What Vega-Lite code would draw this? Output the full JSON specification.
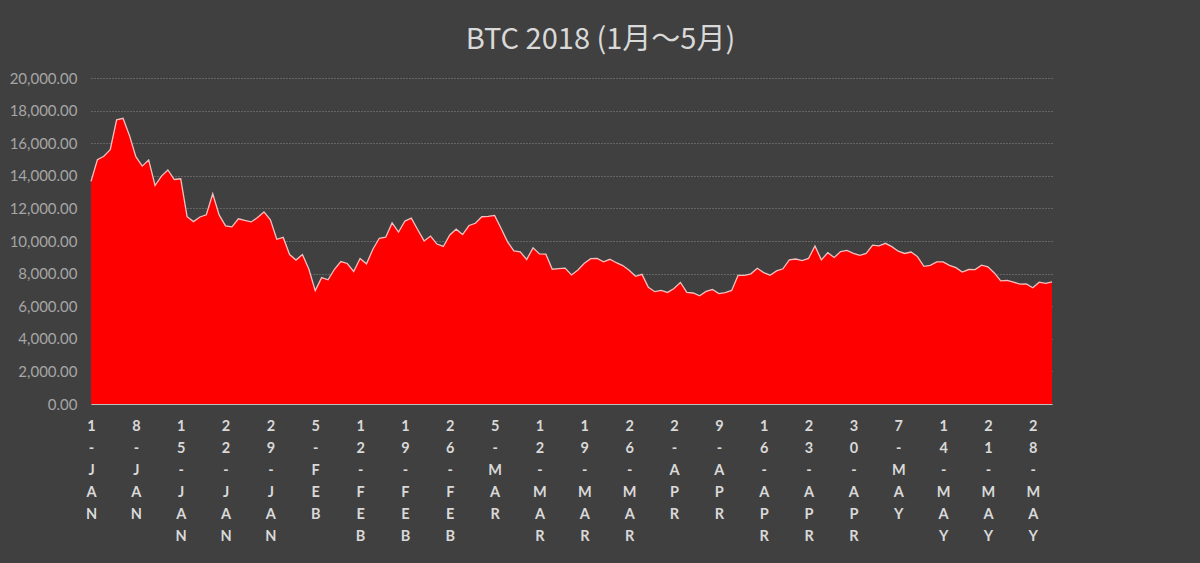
{
  "$schema": "https://vega.github.io/schema/vega-lite/v6.json",
  "description": "BTC 2018 daily price, January to May",
  "autosize": "none",
  "width": 961,
  "height": 326,
  "padding": {"left": 91, "top": 78, "right": 148, "bottom": 159},
  "background": "#404040",
  "config": {
    "view": {"stroke": null},
    "font": "Lato"
  },
  "title": {
    "text": "BTC 2018 (1月～5月)",
    "font": "Noto Sans CJK JP",
    "fontSize": 29,
    "fontWeight": "normal",
    "color": "#d9d9d9",
    "anchor": "middle",
    "dx": 29,
    "offset": 16
  },
  "data": {
    "values": [
      {"date": "2018-01-01", "price": 13657},
      {"date": "2018-01-02", "price": 14982},
      {"date": "2018-01-03", "price": 15201},
      {"date": "2018-01-04", "price": 15599},
      {"date": "2018-01-05", "price": 17429},
      {"date": "2018-01-06", "price": 17527},
      {"date": "2018-01-07", "price": 16477},
      {"date": "2018-01-08", "price": 15170},
      {"date": "2018-01-09", "price": 14595},
      {"date": "2018-01-10", "price": 14973},
      {"date": "2018-01-11", "price": 13405},
      {"date": "2018-01-12", "price": 13980},
      {"date": "2018-01-13", "price": 14360},
      {"date": "2018-01-14", "price": 13772},
      {"date": "2018-01-15", "price": 13819},
      {"date": "2018-01-16", "price": 11490},
      {"date": "2018-01-17", "price": 11188},
      {"date": "2018-01-18", "price": 11474},
      {"date": "2018-01-19", "price": 11607},
      {"date": "2018-01-20", "price": 12899},
      {"date": "2018-01-21", "price": 11601},
      {"date": "2018-01-22", "price": 10931},
      {"date": "2018-01-23", "price": 10868},
      {"date": "2018-01-24", "price": 11359},
      {"date": "2018-01-25", "price": 11259},
      {"date": "2018-01-26", "price": 11171},
      {"date": "2018-01-27", "price": 11441},
      {"date": "2018-01-28", "price": 11786},
      {"date": "2018-01-29", "price": 11296},
      {"date": "2018-01-30", "price": 10106},
      {"date": "2018-01-31", "price": 10221},
      {"date": "2018-02-01", "price": 9171},
      {"date": "2018-02-02", "price": 8830},
      {"date": "2018-02-03", "price": 9174},
      {"date": "2018-02-04", "price": 8277},
      {"date": "2018-02-05", "price": 6955},
      {"date": "2018-02-06", "price": 7754},
      {"date": "2018-02-07", "price": 7621},
      {"date": "2018-02-08", "price": 8265},
      {"date": "2018-02-09", "price": 8736},
      {"date": "2018-02-10", "price": 8621},
      {"date": "2018-02-11", "price": 8129},
      {"date": "2018-02-12", "price": 8926},
      {"date": "2018-02-13", "price": 8598},
      {"date": "2018-02-14", "price": 9494},
      {"date": "2018-02-15", "price": 10166},
      {"date": "2018-02-16", "price": 10233},
      {"date": "2018-02-17", "price": 11112},
      {"date": "2018-02-18", "price": 10551},
      {"date": "2018-02-19", "price": 11225},
      {"date": "2018-02-20", "price": 11403},
      {"date": "2018-02-21", "price": 10690},
      {"date": "2018-02-22", "price": 10005},
      {"date": "2018-02-23", "price": 10301},
      {"date": "2018-02-24", "price": 9813},
      {"date": "2018-02-25", "price": 9664},
      {"date": "2018-02-26", "price": 10366},
      {"date": "2018-02-27", "price": 10725},
      {"date": "2018-02-28", "price": 10397},
      {"date": "2018-03-01", "price": 10951},
      {"date": "2018-03-02", "price": 11086},
      {"date": "2018-03-03", "price": 11489},
      {"date": "2018-03-04", "price": 11512},
      {"date": "2018-03-05", "price": 11573},
      {"date": "2018-03-06", "price": 10779},
      {"date": "2018-03-07", "price": 9965},
      {"date": "2018-03-08", "price": 9395},
      {"date": "2018-03-09", "price": 9337},
      {"date": "2018-03-10", "price": 8866},
      {"date": "2018-03-11", "price": 9578},
      {"date": "2018-03-12", "price": 9205},
      {"date": "2018-03-13", "price": 9194},
      {"date": "2018-03-14", "price": 8269},
      {"date": "2018-03-15", "price": 8300},
      {"date": "2018-03-16", "price": 8338},
      {"date": "2018-03-17", "price": 7916},
      {"date": "2018-03-18", "price": 8223},
      {"date": "2018-03-19", "price": 8630},
      {"date": "2018-03-20", "price": 8913},
      {"date": "2018-03-21", "price": 8929},
      {"date": "2018-03-22", "price": 8728},
      {"date": "2018-03-23", "price": 8879},
      {"date": "2018-03-24", "price": 8668},
      {"date": "2018-03-25", "price": 8495},
      {"date": "2018-03-26", "price": 8209},
      {"date": "2018-03-27", "price": 7833},
      {"date": "2018-03-28", "price": 7954},
      {"date": "2018-03-29", "price": 7165},
      {"date": "2018-03-30", "price": 6891},
      {"date": "2018-03-31", "price": 6973},
      {"date": "2018-04-01", "price": 6845},
      {"date": "2018-04-02", "price": 7083},
      {"date": "2018-04-03", "price": 7456},
      {"date": "2018-04-04", "price": 6853},
      {"date": "2018-04-05", "price": 6811},
      {"date": "2018-04-06", "price": 6636},
      {"date": "2018-04-07", "price": 6911},
      {"date": "2018-04-08", "price": 7023},
      {"date": "2018-04-09", "price": 6771},
      {"date": "2018-04-10", "price": 6834},
      {"date": "2018-04-11", "price": 6968},
      {"date": "2018-04-12", "price": 7889},
      {"date": "2018-04-13", "price": 7895},
      {"date": "2018-04-14", "price": 7986},
      {"date": "2018-04-15", "price": 8329},
      {"date": "2018-04-16", "price": 8058},
      {"date": "2018-04-17", "price": 7902},
      {"date": "2018-04-18", "price": 8163},
      {"date": "2018-04-19", "price": 8294},
      {"date": "2018-04-20", "price": 8845},
      {"date": "2018-04-21", "price": 8895},
      {"date": "2018-04-22", "price": 8802},
      {"date": "2018-04-23", "price": 8930},
      {"date": "2018-04-24", "price": 9697},
      {"date": "2018-04-25", "price": 8845},
      {"date": "2018-04-26", "price": 9281},
      {"date": "2018-04-27", "price": 8988},
      {"date": "2018-04-28", "price": 9348},
      {"date": "2018-04-29", "price": 9419},
      {"date": "2018-04-30", "price": 9240},
      {"date": "2018-05-01", "price": 9119},
      {"date": "2018-05-02", "price": 9235},
      {"date": "2018-05-03", "price": 9743},
      {"date": "2018-05-04", "price": 9700},
      {"date": "2018-05-05", "price": 9858},
      {"date": "2018-05-06", "price": 9654},
      {"date": "2018-05-07", "price": 9374},
      {"date": "2018-05-08", "price": 9235},
      {"date": "2018-05-09", "price": 9325},
      {"date": "2018-05-10", "price": 9044},
      {"date": "2018-05-11", "price": 8441},
      {"date": "2018-05-12", "price": 8504},
      {"date": "2018-05-13", "price": 8723},
      {"date": "2018-05-14", "price": 8717},
      {"date": "2018-05-15", "price": 8510},
      {"date": "2018-05-16", "price": 8368},
      {"date": "2018-05-17", "price": 8095},
      {"date": "2018-05-18", "price": 8250},
      {"date": "2018-05-19", "price": 8248},
      {"date": "2018-05-20", "price": 8513},
      {"date": "2018-05-21", "price": 8418},
      {"date": "2018-05-22", "price": 8042},
      {"date": "2018-05-23", "price": 7557},
      {"date": "2018-05-24", "price": 7587},
      {"date": "2018-05-25", "price": 7481},
      {"date": "2018-05-26", "price": 7356},
      {"date": "2018-05-27", "price": 7369},
      {"date": "2018-05-28", "price": 7135},
      {"date": "2018-05-29", "price": 7473},
      {"date": "2018-05-30", "price": 7399},
      {"date": "2018-05-31", "price": 7495}
    ]
  },
  "mark": {
    "type": "area",
    "color": "#ff0000",
    "opacity": 1,
    "line": {"color": "#f2c0c0", "strokeWidth": 1.3}
  },
  "encoding": {
    "x": {
      "field": "date",
      "type": "temporal",
      "scale": {"type": "utc"},
      "axis": {
        "title": null,
        "values": [
          {"year": 2018, "month": 1, "date": 1, "utc": true},
          {"year": 2018, "month": 1, "date": 8, "utc": true},
          {"year": 2018, "month": 1, "date": 15, "utc": true},
          {"year": 2018, "month": 1, "date": 22, "utc": true},
          {"year": 2018, "month": 1, "date": 29, "utc": true},
          {"year": 2018, "month": 2, "date": 5, "utc": true},
          {"year": 2018, "month": 2, "date": 12, "utc": true},
          {"year": 2018, "month": 2, "date": 19, "utc": true},
          {"year": 2018, "month": 2, "date": 26, "utc": true},
          {"year": 2018, "month": 3, "date": 5, "utc": true},
          {"year": 2018, "month": 3, "date": 12, "utc": true},
          {"year": 2018, "month": 3, "date": 19, "utc": true},
          {"year": 2018, "month": 3, "date": 26, "utc": true},
          {"year": 2018, "month": 4, "date": 2, "utc": true},
          {"year": 2018, "month": 4, "date": 9, "utc": true},
          {"year": 2018, "month": 4, "date": 16, "utc": true},
          {"year": 2018, "month": 4, "date": 23, "utc": true},
          {"year": 2018, "month": 4, "date": 30, "utc": true},
          {"year": 2018, "month": 5, "date": 7, "utc": true},
          {"year": 2018, "month": 5, "date": 14, "utc": true},
          {"year": 2018, "month": 5, "date": 21, "utc": true},
          {"year": 2018, "month": 5, "date": 28, "utc": true}
        ],
        "labelExpr": "split(upper(utcFormat(datum.value, '%-d-%b')), '')",
        "labelAngle": 0,
        "labelAlign": "center",
        "labelBaseline": "top",
        "labelLineHeight": 22,
        "labelPadding": 15,
        "labelFontSize": 14.5,
        "labelFontWeight": "bold",
        "labelColor": "#d9d9d9",
        "labelOverlap": false,
        "labelFlush": false,
        "ticks": false,
        "grid": false,
        "domainColor": "#bfbfbf",
        "domainWidth": 1
      }
    },
    "y": {
      "field": "price",
      "type": "quantitative",
      "scale": {"domain": [0, 20000], "nice": false},
      "axis": {
        "title": null,
        "values": [0, 2000, 4000, 6000, 8000, 10000, 12000, 14000, 16000, 18000, 20000],
        "format": ",.2f",
        "labelFontSize": 15,
        "labelColor": "#a6a6a6",
        "labelPadding": 14,
        "ticks": false,
        "domain": false,
        "grid": true,
        "gridColor": "#8a8a8a",
        "gridDash": [1, 2],
        "gridWidth": 1
      }
    }
  }
}
